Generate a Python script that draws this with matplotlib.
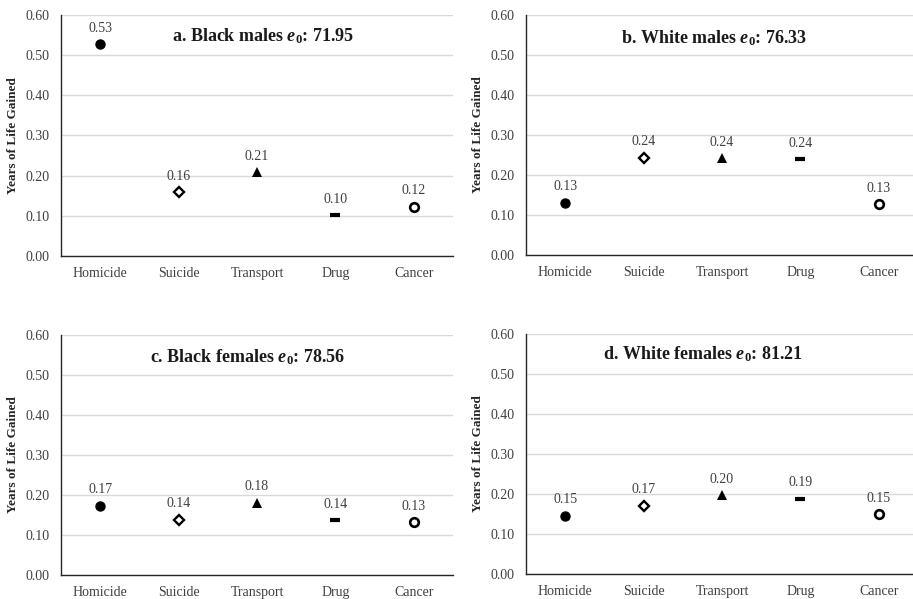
import matplotlib
matplotlib.use("Agg")
import matplotlib.pyplot as plt

plt.rcParams['font.family'] = ['Liberation Serif', 'DejaVu Serif']
plt.rcParams['mathtext.fontset'] = 'custom'
plt.rcParams['mathtext.rm'] = 'Liberation Serif'
plt.rcParams['mathtext.it'] = 'Liberation Serif:italic'
plt.rcParams['mathtext.bf'] = 'Liberation Serif:bold'
plt.rcParams['mathtext.bfit'] = 'Liberation Serif:italic:bold'

causes = ["Homicide", "Suicide", "Transport", "Drug", "Cancer"]

black_males = [0.527, 0.159, 0.208, 0.101, 0.123]
white_males = [0.131, 0.243, 0.242, 0.239, 0.127]
black_females = [0.173, 0.138, 0.180, 0.137, 0.132]
white_females = [0.146, 0.171, 0.197, 0.188, 0.149]

titles = [r"a. Black males $\mathbfit{e}_{\mathbf{0}}$: 71.95",
          r"b. White males $\mathbfit{e}_{\mathbf{0}}$: 76.33",
          r"c. Black females $\mathbfit{e}_{\mathbf{0}}$: 78.56",
          r"d. White females $\mathbfit{e}_{\mathbf{0}}$: 81.21"]
panels = [black_males, white_males, black_females, white_females]

# marker style per cause
styles = [
    dict(marker='o', markersize=7.5, mfc='black', mec='black', mew=0),
    dict(marker='D', markersize=4.8, mfc='white', mec='black', mew=1.7),
    dict(marker='^', markersize=7.5, mfc='black', mec='black', mew=0),
    dict(marker='_', markersize=6.5, mfc='black', mec='black', mew=3),
    dict(marker='o', markersize=6.2, mfc='white', mec='black', mew=1.9),
]

# axes boxes in figure pixels: left, bottom(from top), top(from top)
W, H = 913, 599
boxes = [(61, 256, 15), (526, 255, 15), (61, 575, 335), (526, 574, 334)]
title_pos = [(0.515, 0.913), (0.48, 0.904), (0.476, 0.906), (0.451, 0.917)]

fig = plt.figure(figsize=(W / 100, H / 100), dpi=100)
gray = '#404040'

for k in range(4):
    left, bot, top = boxes[k]
    ax = fig.add_axes([left / W, (H - bot) / H, 392 / W, (bot - top) / H])
    vals = panels[k]
    for i, v in enumerate(vals):
        ax.plot([i], [v], linestyle='none', zorder=3, **styles[i])
        ax.annotate("%.2f" % v, (i, v), xytext=(0, 9), textcoords='offset points',
                    ha='center', va='baseline', fontsize=10, color=gray)
    ax.set_xlim(-0.5, 4.5)
    ax.set_ylim(0, 0.6)
    ax.set_yticks([0, 0.1, 0.2, 0.3, 0.4, 0.5, 0.6])
    ax.set_yticklabels(["%.2f" % t for t in ax.get_yticks()])
    ax.set_xticks(range(5))
    ax.set_xticklabels(causes)
    ax.tick_params(length=0, labelsize=10, labelcolor=gray, pad=8)
    ax.grid(axis='y', color='#d9d9d9', linewidth=1)
    ax.set_axisbelow(True)
    for s in ['top', 'right']:
        ax.spines[s].set_visible(False)
    for s in ['left', 'bottom']:
        ax.spines[s].set_color('#262626')
        ax.spines[s].set_linewidth(1)
    ax.set_ylabel("Years of Life Gained", fontsize=9.5, fontweight='bold',
                  color='#262626', labelpad=5)
    tx, ty = title_pos[k]
    ax.text(tx, ty, titles[k], transform=ax.transAxes, ha='center', va='center',
            fontsize=13, fontweight='bold', color='#1a1a1a')

fig.savefig("out.png", dpi=100)
